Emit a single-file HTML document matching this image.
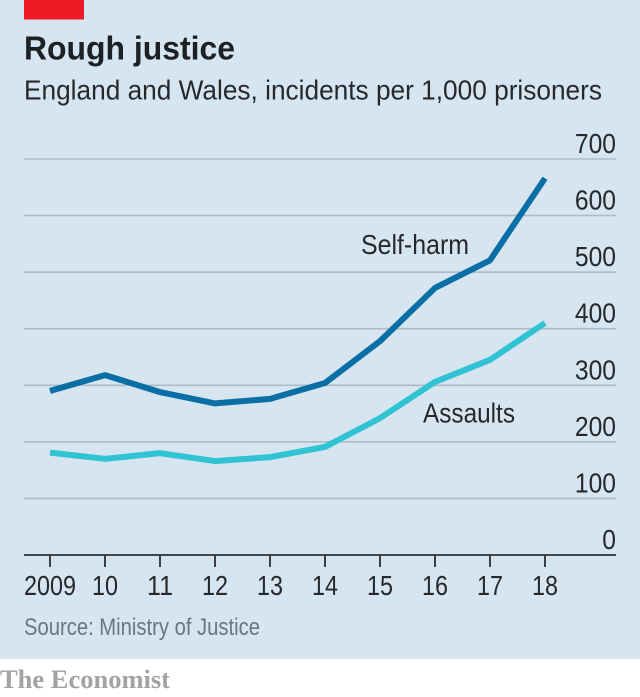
<!DOCTYPE html>
<html lang="en">
<head>
<meta charset="utf-8">
<title>Rough justice</title>
<style>
html,body{margin:0;padding:0;background:#fff;}
body{width:640px;height:697px;overflow:hidden;}
svg{display:block;}
text{font-family:"Liberation Sans",sans-serif;}
</style>
</head>
<body>
<svg id="chart" width="640" height="697" viewBox="0 0 640 697" xmlns="http://www.w3.org/2000/svg">
  <rect x="0" y="0" width="640" height="659" fill="#d6e5ef"/>
  <rect x="24" y="0" width="60" height="19.5" fill="#ed1c24"/>
  <text x="24" y="59.5" font-size="33" font-weight="700" fill="#1d2126" textLength="211" lengthAdjust="spacingAndGlyphs">Rough justice</text>
  <text x="24" y="99.5" font-size="28" fill="#25292e" textLength="578" lengthAdjust="spacingAndGlyphs">England and Wales, incidents per 1,000 prisoners</text>
  <g id="grid"></g>
  <g id="y-labels"></g>
  <g id="x-axis"></g>
  <g id="series"></g>
  <text x="361" y="254" font-size="28" fill="#25292e" textLength="108" lengthAdjust="spacingAndGlyphs">Self-harm</text>
  <text x="423" y="422.5" font-size="28" fill="#25292e" textLength="92" lengthAdjust="spacingAndGlyphs">Assaults</text>
  <text x="24" y="635" font-size="24" fill="#6a7780" textLength="236" lengthAdjust="spacingAndGlyphs">Source: Ministry of Justice</text>
  <text x="0" y="688" font-size="26" font-weight="700" fill="#a3a3a3" textLength="170" lengthAdjust="spacingAndGlyphs" style="font-family:'Liberation Serif',serif">The Economist</text>
</svg>
<script>
const years = ['2009', '10', '11', '12', '13', '14', '15', '16', '17', '18'];
const selfHarm = [290, 318, 288, 268, 276, 304, 378, 472, 521, 666];
const assaults = [181, 170, 180, 166, 173, 191, 242, 306, 345, 410];
const yTicks = [0, 100, 200, 300, 400, 500, 600, 700];

const NS = 'http://www.w3.org/2000/svg';
function xScale(i) { return 50 + i * 55; }
function yScale(v) { return 555 - v * 396 / 700; }
function make(tag, attrs) {
  const el = document.createElementNS(NS, tag);
  for (const k in attrs) el.setAttribute(k, attrs[k]);
  return el;
}

const grid = document.getElementById('grid');
const yLabels = document.getElementById('y-labels');
yTicks.forEach(function (t) {
  if (t !== 0) {
    const g = make('line', { x1: 24, x2: 616, y1: yScale(t), y2: yScale(t), stroke: '#aebbc5', 'stroke-width': 1.6 });
    
    
    grid.appendChild(g);
  }
  const lab = make('text', { x: 616, y: yScale(t) - 6, 'text-anchor': 'end', 'font-size': 28, fill: '#25292e' });
  
  
  const str = String(t);
  lab.setAttribute('textLength', String(str.length * 13.7));
  lab.setAttribute('lengthAdjust', 'spacingAndGlyphs');
  lab.textContent = str;
  yLabels.appendChild(lab);
});

const xAxis = document.getElementById('x-axis');
const base = make('line', { x1: 24, x2: 616, y1: 555, y2: 555, stroke: '#2b3035', 'stroke-width': 1.8 });


xAxis.appendChild(base);
years.forEach(function (label, i) {
  const tick = make('line', { x1: xScale(i), x2: xScale(i), y1: 555, y2: 567, stroke: '#2b3035', 'stroke-width': 1.8 });
  
  
  xAxis.appendChild(tick);
  const txt = make('text', { x: i === 0 ? 24 : xScale(i), y: 595, 'text-anchor': i === 0 ? 'start' : 'middle', 'font-size': 28, fill: '#25292e' });
  
  
  txt.setAttribute('textLength', String(label.length * 13));
  txt.setAttribute('lengthAdjust', 'spacingAndGlyphs');
  txt.textContent = label;
  xAxis.appendChild(txt);
});

function linePoints(values) {
  return values.map(function (v, i) { return xScale(i) + ',' + yScale(v); }).join(' ');
}
const seriesGroup = document.getElementById('series');
const lineSelf = make('polyline', { points: linePoints(selfHarm), fill: 'none', stroke: '#0a6fa5', 'stroke-width': 6, 'stroke-linejoin': 'round' });


seriesGroup.appendChild(lineSelf);
const lineAssaults = make('polyline', { points: linePoints(assaults), fill: 'none', stroke: '#2fc3d4', 'stroke-width': 6, 'stroke-linejoin': 'round' });


seriesGroup.appendChild(lineAssaults);
</script>
</body>
</html>
